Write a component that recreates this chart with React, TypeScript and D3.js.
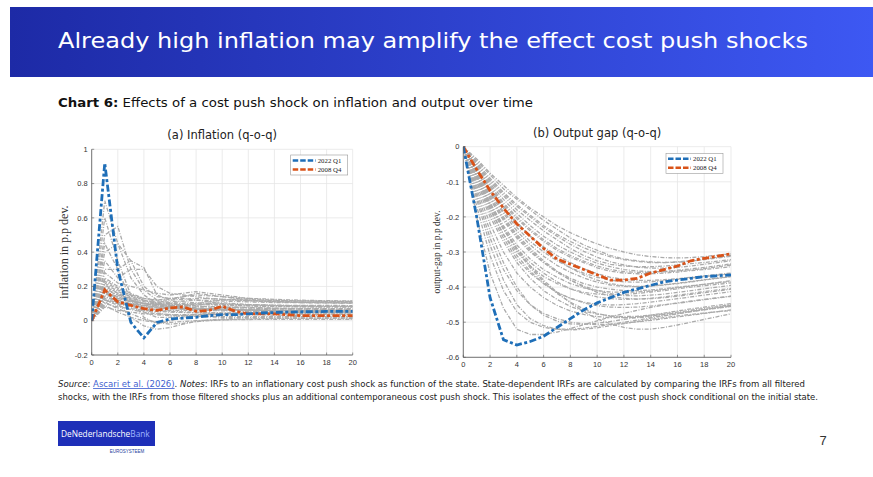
import React from 'react';
import * as d3 from 'd3';

// horizons (quarters)
const horizons = d3.range(0, 21);

// inflation responses
const infl2022Q1 = [0, 0.92, 0.3, -0.01, -0.1, -0.01, 0.01, 0.015, 0.02, 0.03, 0.035, 0.035, 0.04, 0.045, 0.048, 0.05, 0.052, 0.053, 0.054, 0.055, 0.055];
const infl2008Q4 = [0, 0.18, 0.11, 0.09, 0.07, 0.06, 0.075, 0.08, 0.055, 0.06, 0.085, 0.055, 0.04, 0.04, 0.04, 0.035, 0.03, 0.03, 0.03, 0.03, 0.03];

const inflOther = [
  [0, 0.12, 0.11, 0.1, 0.09, 0.085, 0.08, 0.078, 0.075, 0.072, 0.07, 0.068, 0.066, 0.065, 0.064, 0.063, 0.062, 0.062, 0.061, 0.061, 0.06],
  [0, 0.15, 0.13, 0.115, 0.1, 0.095, 0.09, 0.088, 0.085, 0.083, 0.08, 0.078, 0.076, 0.075, 0.074, 0.073, 0.072, 0.072, 0.071, 0.07, 0.07],
  [0, 0.18, 0.15, 0.13, 0.115, 0.105, 0.1, 0.1, 0.098, 0.096, 0.095, 0.094, 0.093, 0.092, 0.091, 0.09, 0.09, 0.09, 0.089, 0.089, 0.088],
  [0, 0.22, 0.17, 0.14, 0.12, 0.11, 0.11, 0.115, 0.12, 0.118, 0.115, 0.112, 0.11, 0.108, 0.106, 0.105, 0.105, 0.104, 0.104, 0.103, 0.103],
  [0, 0.1, 0.08, 0.07, 0.06, 0.055, 0.05, 0.048, 0.046, 0.044, 0.043, 0.042, 0.041, 0.04, 0.04, 0.039, 0.039, 0.038, 0.038, 0.038, 0.037],
  [0, 0.08, 0.06, 0.05, 0.04, 0.035, 0.03, 0.028, 0.027, 0.026, 0.025, 0.025, 0.024, 0.024, 0.023, 0.023, 0.023, 0.022, 0.022, 0.022, 0.022],
  [0, 0.2, 0.16, 0.12, 0.1, 0.09, 0.085, 0.09, 0.1, 0.11, 0.12, 0.125, 0.12, 0.115, 0.112, 0.11, 0.108, 0.107, 0.106, 0.105, 0.105],
  [0, 0.25, 0.2, 0.16, 0.13, 0.12, 0.13, 0.14, 0.15, 0.145, 0.14, 0.135, 0.13, 0.128, 0.125, 0.122, 0.12, 0.118, 0.117, 0.116, 0.115],
  [0, 0.14, 0.12, 0.1, 0.085, 0.075, 0.07, 0.068, 0.066, 0.065, 0.064, 0.063, 0.062, 0.061, 0.06, 0.06, 0.059, 0.059, 0.058, 0.058, 0.058],
  [0, 0.16, 0.14, 0.12, 0.1, 0.09, 0.085, 0.08, 0.075, 0.07, 0.068, 0.066, 0.064, 0.062, 0.06, 0.058, 0.056, 0.055, 0.054, 0.053, 0.052],
  [0, 0.13, 0.1, 0.08, 0.06, 0.045, 0.035, 0.03, 0.025, 0.022, 0.02, 0.018, 0.017, 0.016, 0.015, 0.015, 0.014, 0.014, 0.014, 0.013, 0.013],
  [0, 0.11, 0.07, 0.04, 0.01, -0.01, -0.02, -0.015, -0.005, 0, 0.005, 0.008, 0.01, 0.012, 0.013, 0.014, 0.015, 0.015, 0.016, 0.016, 0.016],
  [0, 0.19, 0.1, 0.02, -0.03, -0.05, -0.04, -0.02, -0.005, 0.005, 0.01, 0.015, 0.018, 0.02, 0.021, 0.022, 0.022, 0.023, 0.023, 0.023, 0.023],
  [0.1, 0.12, 0.1, 0.09, 0.08, 0.075, 0.07, 0.068, 0.067, 0.066, 0.065, 0.064, 0.063, 0.062, 0.061, 0.06, 0.06, 0.059, 0.059, 0.058, 0.058],
  [0.05, 0.17, 0.13, 0.11, 0.1, 0.1, 0.105, 0.11, 0.105, 0.1, 0.095, 0.09, 0.088, 0.086, 0.085, 0.084, 0.083, 0.083, 0.082, 0.082, 0.082],
  [0, 0.09, 0.05, 0.02, 0, -0.01, -0.01, -0.005, 0, 0.003, 0.005, 0.006, 0.007, 0.008, 0.008, 0.008, 0.008, 0.008, 0.008, 0.008, 0.008],
  [0, 0.21, 0.16, 0.13, 0.11, 0.1, 0.095, 0.095, 0.095, 0.093, 0.09, 0.088, 0.086, 0.084, 0.083, 0.082, 0.081, 0.08, 0.08, 0.079, 0.079],
  [0, 0.17, 0.14, 0.11, 0.09, 0.08, 0.075, 0.072, 0.07, 0.068, 0.066, 0.064, 0.062, 0.06, 0.058, 0.057, 0.056, 0.055, 0.054, 0.054, 0.053],
  [0, 0.23, 0.18, 0.15, 0.13, 0.12, 0.12, 0.125, 0.13, 0.128, 0.125, 0.12, 0.116, 0.113, 0.11, 0.108, 0.106, 0.105, 0.104, 0.103, 0.102],
  [0, 0.14, 0.11, 0.09, 0.07, 0.06, 0.055, 0.052, 0.05, 0.048, 0.046, 0.045, 0.044, 0.043, 0.042, 0.041, 0.041, 0.04, 0.04, 0.04, 0.039],
  [0, 0.19, 0.15, 0.12, 0.1, 0.085, 0.075, 0.07, 0.068, 0.07, 0.075, 0.08, 0.078, 0.075, 0.072, 0.07, 0.068, 0.067, 0.066, 0.065, 0.065],
  [0, 0.24, 0.19, 0.15, 0.12, 0.1, 0.09, 0.085, 0.09, 0.1, 0.105, 0.1, 0.095, 0.092, 0.09, 0.088, 0.087, 0.086, 0.085, 0.085, 0.084],
  [0, 0.16, 0.12, 0.095, 0.075, 0.065, 0.06, 0.06, 0.062, 0.063, 0.062, 0.06, 0.058, 0.056, 0.054, 0.052, 0.05, 0.049, 0.048, 0.047, 0.046],
  [0, 0.12, 0.09, 0.065, 0.05, 0.04, 0.035, 0.035, 0.037, 0.038, 0.037, 0.036, 0.035, 0.034, 0.033, 0.032, 0.032, 0.031, 0.031, 0.031, 0.03],
  [0, 0.7, 0.45, 0.25, 0.15, 0.1, 0.08, 0.07, 0.065, 0.06, 0.058, 0.056, 0.055, 0.054, 0.053, 0.052, 0.052, 0.051, 0.051, 0.05, 0.05],
  [0, 0.5, 0.55, 0.3, 0.18, 0.12, 0.1, 0.09, 0.085, 0.08, 0.078, 0.076, 0.074, 0.072, 0.07, 0.07, 0.069, 0.069, 0.068, 0.068, 0.068],
  [0, 0.4, 0.45, 0.35, 0.2, 0.14, 0.13, 0.13, 0.12, 0.11, 0.1, 0.095, 0.092, 0.09, 0.088, 0.086, 0.085, 0.084, 0.084, 0.083, 0.083],
  [0, 0.3, 0.3, 0.35, 0.31, 0.15, 0.12, 0.14, 0.16, 0.15, 0.14, 0.13, 0.125, 0.12, 0.118, 0.116, 0.115, 0.114, 0.113, 0.112, 0.112],
  [0, 0.35, 0.25, 0.3, 0.3, 0.2, 0.16, 0.15, 0.14, 0.13, 0.125, 0.12, 0.118, 0.116, 0.114, 0.112, 0.11, 0.11, 0.109, 0.108, 0.108],
  [0, 0.6, 0.35, 0.15, 0.05, 0.02, 0.02, 0.03, 0.035, 0.04, 0.042, 0.044, 0.045, 0.046, 0.047, 0.047, 0.048, 0.048, 0.048, 0.049, 0.049],
  [0, 0.45, 0.3, 0.12, 0.02, -0.02, 0, 0.02, 0.03, 0.035, 0.04, 0.042, 0.044, 0.045, 0.046, 0.046, 0.047, 0.047, 0.047, 0.048, 0.048],
  [0, 0.28, 0.22, 0.2, 0.18, 0.16, 0.15, 0.16, 0.17, 0.16, 0.15, 0.14, 0.13, 0.125, 0.12, 0.118, 0.116, 0.115, 0.114, 0.113, 0.112],
];

// output gap responses
const gap2022Q1 = [0, -0.2, -0.43, -0.55, -0.565, -0.555, -0.54, -0.515, -0.49, -0.465, -0.445, -0.43, -0.415, -0.405, -0.395, -0.385, -0.38, -0.375, -0.37, -0.368, -0.365];
const gap2008Q4 = [0, -0.065, -0.125, -0.175, -0.22, -0.255, -0.29, -0.32, -0.335, -0.35, -0.365, -0.38, -0.38, -0.375, -0.36, -0.35, -0.34, -0.325, -0.318, -0.312, -0.305];

const gapOther = [
  [0, -0.04, -0.08, -0.12, -0.15, -0.18, -0.21, -0.235, -0.26, -0.28, -0.295, -0.31, -0.32, -0.325, -0.328, -0.33, -0.328, -0.325, -0.32, -0.315, -0.31],
  [0, -0.05, -0.1, -0.14, -0.18, -0.21, -0.24, -0.265, -0.29, -0.31, -0.325, -0.335, -0.34, -0.342, -0.342, -0.34, -0.337, -0.333, -0.33, -0.326, -0.322],
  [0, -0.06, -0.115, -0.165, -0.205, -0.24, -0.27, -0.295, -0.315, -0.33, -0.345, -0.355, -0.36, -0.362, -0.362, -0.36, -0.357, -0.353, -0.35, -0.346, -0.342],
  [0, -0.07, -0.13, -0.185, -0.23, -0.27, -0.3, -0.325, -0.345, -0.36, -0.372, -0.38, -0.385, -0.386, -0.385, -0.382, -0.378, -0.374, -0.37, -0.366, -0.362],
  [0, -0.08, -0.15, -0.21, -0.26, -0.3, -0.33, -0.355, -0.375, -0.39, -0.4, -0.406, -0.41, -0.41, -0.408, -0.405, -0.4, -0.396, -0.392, -0.388, -0.384],
  [0, -0.09, -0.17, -0.235, -0.29, -0.33, -0.36, -0.385, -0.405, -0.418, -0.428, -0.433, -0.435, -0.434, -0.432, -0.428, -0.423, -0.418, -0.413, -0.408, -0.404],
  [0, -0.1, -0.19, -0.26, -0.32, -0.36, -0.39, -0.415, -0.432, -0.445, -0.453, -0.457, -0.458, -0.457, -0.454, -0.45, -0.446, -0.441, -0.436, -0.431, -0.426],
  [0, -0.12, -0.22, -0.3, -0.36, -0.4, -0.43, -0.452, -0.468, -0.478, -0.484, -0.487, -0.487, -0.485, -0.482, -0.478, -0.474, -0.469, -0.464, -0.459, -0.454],
  [0, -0.14, -0.26, -0.35, -0.41, -0.45, -0.475, -0.49, -0.5, -0.505, -0.507, -0.506, -0.503, -0.499, -0.495, -0.49, -0.485, -0.48, -0.475, -0.47, -0.465],
  [0, -0.17, -0.31, -0.41, -0.47, -0.5, -0.515, -0.52, -0.52, -0.517, -0.512, -0.506, -0.5, -0.494, -0.488, -0.482, -0.476, -0.47, -0.465, -0.46, -0.455],
  [0, -0.2, -0.36, -0.46, -0.52, -0.535, -0.535, -0.528, -0.518, -0.507, -0.496, -0.485, -0.475, -0.466, -0.458, -0.451, -0.445, -0.44, -0.435, -0.43, -0.426],
  [0, -0.15, -0.28, -0.38, -0.45, -0.49, -0.51, -0.52, -0.522, -0.52, -0.516, -0.51, -0.504, -0.498, -0.492, -0.487, -0.482, -0.478, -0.474, -0.47, -0.467],
  [0, -0.08, -0.16, -0.23, -0.29, -0.34, -0.38, -0.415, -0.445, -0.47, -0.49, -0.505, -0.515, -0.52, -0.52, -0.515, -0.508, -0.5, -0.492, -0.484, -0.476],
  [0, -0.055, -0.105, -0.15, -0.19, -0.225, -0.255, -0.28, -0.3, -0.318, -0.332, -0.342, -0.35, -0.354, -0.356, -0.356, -0.354, -0.351, -0.347, -0.342, -0.337],
  [0, -0.065, -0.125, -0.175, -0.22, -0.255, -0.285, -0.31, -0.33, -0.348, -0.362, -0.372, -0.378, -0.381, -0.381, -0.379, -0.376, -0.372, -0.368, -0.364, -0.36],
  [0, -0.075, -0.14, -0.2, -0.25, -0.29, -0.325, -0.355, -0.38, -0.4, -0.415, -0.426, -0.432, -0.434, -0.433, -0.43, -0.426, -0.421, -0.416, -0.411, -0.406],
  [0, -0.1, -0.18, -0.25, -0.3, -0.34, -0.37, -0.39, -0.405, -0.415, -0.42, -0.422, -0.421, -0.418, -0.414, -0.41, -0.405, -0.4, -0.396, -0.392, -0.388],
  [0, -0.045, -0.09, -0.13, -0.165, -0.195, -0.225, -0.25, -0.27, -0.288, -0.302, -0.314, -0.322, -0.327, -0.33, -0.33, -0.329, -0.326, -0.322, -0.317, -0.312],
  [0, -0.11, -0.2, -0.27, -0.33, -0.375, -0.41, -0.435, -0.455, -0.468, -0.477, -0.482, -0.484, -0.483, -0.48, -0.476, -0.471, -0.466, -0.461, -0.456, -0.45],
  [0, -0.085, -0.16, -0.225, -0.28, -0.32, -0.35, -0.372, -0.39, -0.402, -0.41, -0.414, -0.415, -0.414, -0.411, -0.407, -0.402, -0.397, -0.392, -0.387, -0.382],
  [0, -0.035, -0.075, -0.11, -0.145, -0.175, -0.2, -0.225, -0.245, -0.262, -0.277, -0.29, -0.3, -0.308, -0.313, -0.316, -0.317, -0.316, -0.313, -0.309, -0.305],
  [0, -0.06, -0.11, -0.16, -0.2, -0.235, -0.265, -0.29, -0.31, -0.326, -0.34, -0.35, -0.356, -0.358, -0.358, -0.356, -0.352, -0.348, -0.344, -0.339, -0.334],
  [0, -0.07, -0.135, -0.19, -0.24, -0.28, -0.312, -0.338, -0.358, -0.374, -0.386, -0.394, -0.398, -0.399, -0.397, -0.393, -0.389, -0.384, -0.379, -0.374, -0.37],
  [0, -0.075, -0.145, -0.205, -0.255, -0.295, -0.33, -0.358, -0.38, -0.397, -0.41, -0.419, -0.424, -0.425, -0.423, -0.42, -0.415, -0.41, -0.405, -0.4, -0.395],
  [0, -0.05, -0.095, -0.135, -0.17, -0.2, -0.23, -0.255, -0.278, -0.298, -0.315, -0.328, -0.337, -0.343, -0.346, -0.346, -0.344, -0.34, -0.335, -0.33, -0.325],
  [0, -0.085, -0.165, -0.235, -0.295, -0.345, -0.385, -0.418, -0.443, -0.462, -0.475, -0.483, -0.487, -0.487, -0.485, -0.481, -0.476, -0.47, -0.464, -0.458, -0.452],
  [0, -0.065, -0.12, -0.17, -0.215, -0.255, -0.29, -0.32, -0.345, -0.365, -0.38, -0.39, -0.396, -0.398, -0.397, -0.394, -0.39, -0.385, -0.38, -0.375, -0.37],
  [0, -0.09, -0.175, -0.25, -0.31, -0.355, -0.39, -0.415, -0.432, -0.443, -0.449, -0.451, -0.45, -0.447, -0.443, -0.438, -0.433, -0.428, -0.423, -0.418, -0.413],
  [0, -0.13, -0.24, -0.33, -0.4, -0.45, -0.48, -0.497, -0.505, -0.506, -0.503, -0.498, -0.492, -0.486, -0.48, -0.474, -0.468, -0.462, -0.457, -0.452, -0.447],
];

const legendLabels = ['2022 Q1', '2008 Q4'];
const xTicks = d3.range(0, 21, 2);
const inflTicks = [-0.2, 0, 0.2, 0.4, 0.6, 0.8, 1];
const gapTicks = [-0.6, -0.5, -0.4, -0.3, -0.2, -0.1, 0];

const BLUE = '#1f6fb8';
const ORANGE = '#d95319';
const GRAY = '#ababab';
const AXIS = '#555';
const TICK_FONT = '"Liberation Sans", Arial, sans-serif';
const SERIF = '"Liberation Serif", "Times New Roman", serif';
const VERDANA = '"DejaVu Sans", Verdana, sans-serif';
const LOGO_FONT = '"Open Sans", "Liberation Sans", sans-serif';

interface PanelProps {
  left: number; right: number; top: number; bottom: number;
  yDomain: [number, number];
  yTicks: number[];
  title: string;
  yLabel: string;
  yLabelX: number;
  yLabelSize: number;
  main: number[];
  second: number[];
  others: number[][];
  legendX: number; legendY: number;
}

const Panel: React.FC<PanelProps> = (p) => {
  const x = d3.scaleLinear().domain([0, 20]).range([p.left, p.right]);
  const y = d3.scaleLinear().domain(p.yDomain).range([p.bottom, p.top]);
  const line = d3.line<number>().x((_, i) => x(horizons[i])).y(d => y(d));
  const fmt = (v: number) => String(+v.toFixed(1));
  const lw = 57;
  return (
    <g>
      <defs>
        <clipPath id={`clip-${p.left}`}>
          <rect x={p.left} y={p.top - 2} width={p.right - p.left} height={p.bottom - p.top + 2} />
        </clipPath>
      </defs>
      {/* grid */}
      {xTicks.map(t => (
        <line key={'gx' + t} x1={x(t)} x2={x(t)} y1={p.top} y2={p.bottom} stroke="#e6e6e6" strokeWidth={0.8} />
      ))}
      {p.yTicks.map(t => (
        <line key={'gy' + t} x1={p.left} x2={p.right} y1={y(t)} y2={y(t)} stroke="#e6e6e6" strokeWidth={0.8} />
      ))}
      {/* other filtered-shock IRFs */}
      <g clipPath={`url(#clip-${p.left})`}>
        {p.others.map((s, i) => (
          <path key={i} d={line(s) || ''} fill="none" stroke={GRAY} strokeWidth={1.3} strokeDasharray="4,1.5,1,1.5" />
        ))}
        <path d={line(p.second) || ''} fill="none" stroke={ORANGE} strokeWidth={2.8} strokeDasharray="7,2.5,3,2.5" />
        <path d={line(p.main) || ''} fill="none" stroke={BLUE} strokeWidth={2.8} strokeDasharray="7,2.5,3,2.5" />
      </g>
      {/* axes */}
      <line x1={p.left} x2={p.left} y1={p.top} y2={p.bottom} stroke={AXIS} strokeWidth={0.8} />
      <line x1={p.left} x2={p.right} y1={p.bottom} y2={p.bottom} stroke={AXIS} strokeWidth={0.8} />
      {xTicks.map(t => (
        <g key={'tx' + t}>
          <line x1={x(t)} x2={x(t)} y1={p.bottom} y2={p.bottom - 2.5} stroke={AXIS} strokeWidth={0.6} />
          <text x={x(t)} y={p.bottom + 10} textAnchor="middle" fontSize={7.5} fontFamily={TICK_FONT} fill="#333">{t}</text>
        </g>
      ))}
      {p.yTicks.map(t => (
        <g key={'ty' + t}>
          <line x1={p.left} x2={p.left + 2.5} y1={y(t)} y2={y(t)} stroke={AXIS} strokeWidth={0.6} />
          <text x={p.left - 4} y={y(t) + 2.7} textAnchor="end" fontSize={7.5} fontFamily={TICK_FONT} fill="#333">{fmt(t)}</text>
        </g>
      ))}
      <text x={(p.left + p.right) / 2} y={p.top - 10} textAnchor="middle" fontSize={11.5} fontFamily={VERDANA} fill="#222">{p.title}</text>
      <text transform={`translate(${p.yLabelX},${(p.top + p.bottom) / 2}) rotate(-90)`} textAnchor="middle"
        fontSize={p.yLabelSize} fontFamily={SERIF} fill="#333">{p.yLabel}</text>
      {/* legend */}
      <rect x={p.legendX} y={p.legendY} width={lw} height={20} fill="#fff" stroke="#999" strokeWidth={0.6} />
      {[BLUE, ORANGE].map((c, i) => (
        <g key={c}>
          <line x1={p.legendX + 2} x2={p.legendX + 25} y1={p.legendY + 5.5 + i * 9} y2={p.legendY + 5.5 + i * 9}
            stroke={c} strokeWidth={2.6} strokeDasharray="5.5,2" />
          <text x={p.legendX + 27} y={p.legendY + 7.8 + i * 9} fontSize={6.8} fontFamily={SERIF} fill="#222">{legendLabels[i]}</text>
        </g>
      ))}
    </g>
  );
};

export default function App() {
  return (
    <svg width={873} height={477} style={{ position: 'absolute', left: 0, top: 0, background: '#fff' }}>
      <defs>
        <linearGradient id="banner" x1="0" x2="1" y1="0" y2="0">
          <stop offset="0%" stopColor="#1d2aa6" />
          <stop offset="100%" stopColor="#3d58f3" />
        </linearGradient>
      </defs>
      <rect x={10} y={7} width={863} height={70} fill="url(#banner)" />
      <text x={58} y={48} fontSize={22} fontFamily={VERDANA} fill="#fff" textLength={750} lengthAdjust="spacingAndGlyphs">
        Already high inflation may amplify the effect cost push shocks
      </text>

      <text x={58} y={107} fontSize={12.5} fontFamily={VERDANA} fill="#111" textLength={475} lengthAdjust="spacingAndGlyphs">
        <tspan fontWeight="bold">Chart 6:</tspan> Effects of a cost push shock on inflation and output over time
      </text>

      <Panel left={91.7} right={352.7} top={149.3} bottom={355}
        yDomain={[-0.2, 1]} yTicks={inflTicks}
        title="(a) Inflation (q-o-q)" yLabel="inflation in p.p dev." yLabelX={68} yLabelSize={12}
        main={infl2022Q1} second={infl2008Q4} others={inflOther}
        legendX={290.7} legendY={155} />

      <Panel left={463.3} right={731} top={146.7} bottom={357.3}
        yDomain={[-0.6, 0]} yTicks={gapTicks}
        title="(b) Output gap (q-o-q)" yLabel="output-gap in p.p dev." yLabelX={440} yLabelSize={9.5}
        main={gap2022Q1} second={gap2008Q4} others={gapOther}
        legendX={666} legendY={153.3} />

      <g fontFamily={VERDANA} fontSize={8.3} fill="#222">
        <text x={58} y={387} textLength={747} lengthAdjust="spacingAndGlyphs">
          <tspan fontStyle="italic">Source</tspan>: <tspan fill="#3f5fd0" textDecoration="underline">Ascari et al. (2026)</tspan>. <tspan fontStyle="italic">Notes</tspan>: IRFs to an inflationary cost push shock as function of the state. State-dependent IRFs are calculated by comparing the IRFs from all filtered
        </text>
        <text x={58} y={400} textLength={760} lengthAdjust="spacingAndGlyphs">
          shocks, with the IRFs from those filtered shocks plus an additional contemporaneous cost push shock. This isolates the effect of the cost push shock conditional on the initial state.
        </text>
      </g>

      {/* bank logo */}
      <rect x={58} y={421} width={97} height={25} fill="#1e2fb8" />
      <text x={61} y={437} fontSize={8.3} fontFamily={LOGO_FONT} fill="#fff">
        DeNederlandsche<tspan fill="#9fb4ff">Bank</tspan>
      </text>
      <text x={127} y={453} fontSize={4.5} fontFamily={TICK_FONT} fill="#233a9a" textAnchor="middle">EUROSYSTEEM</text>

      <text x={823} y={445} fontSize={13} fontFamily={'"Liberation Sans", Arial, sans-serif'} fill="#333" textAnchor="middle">7</text>
    </svg>
  );
}
